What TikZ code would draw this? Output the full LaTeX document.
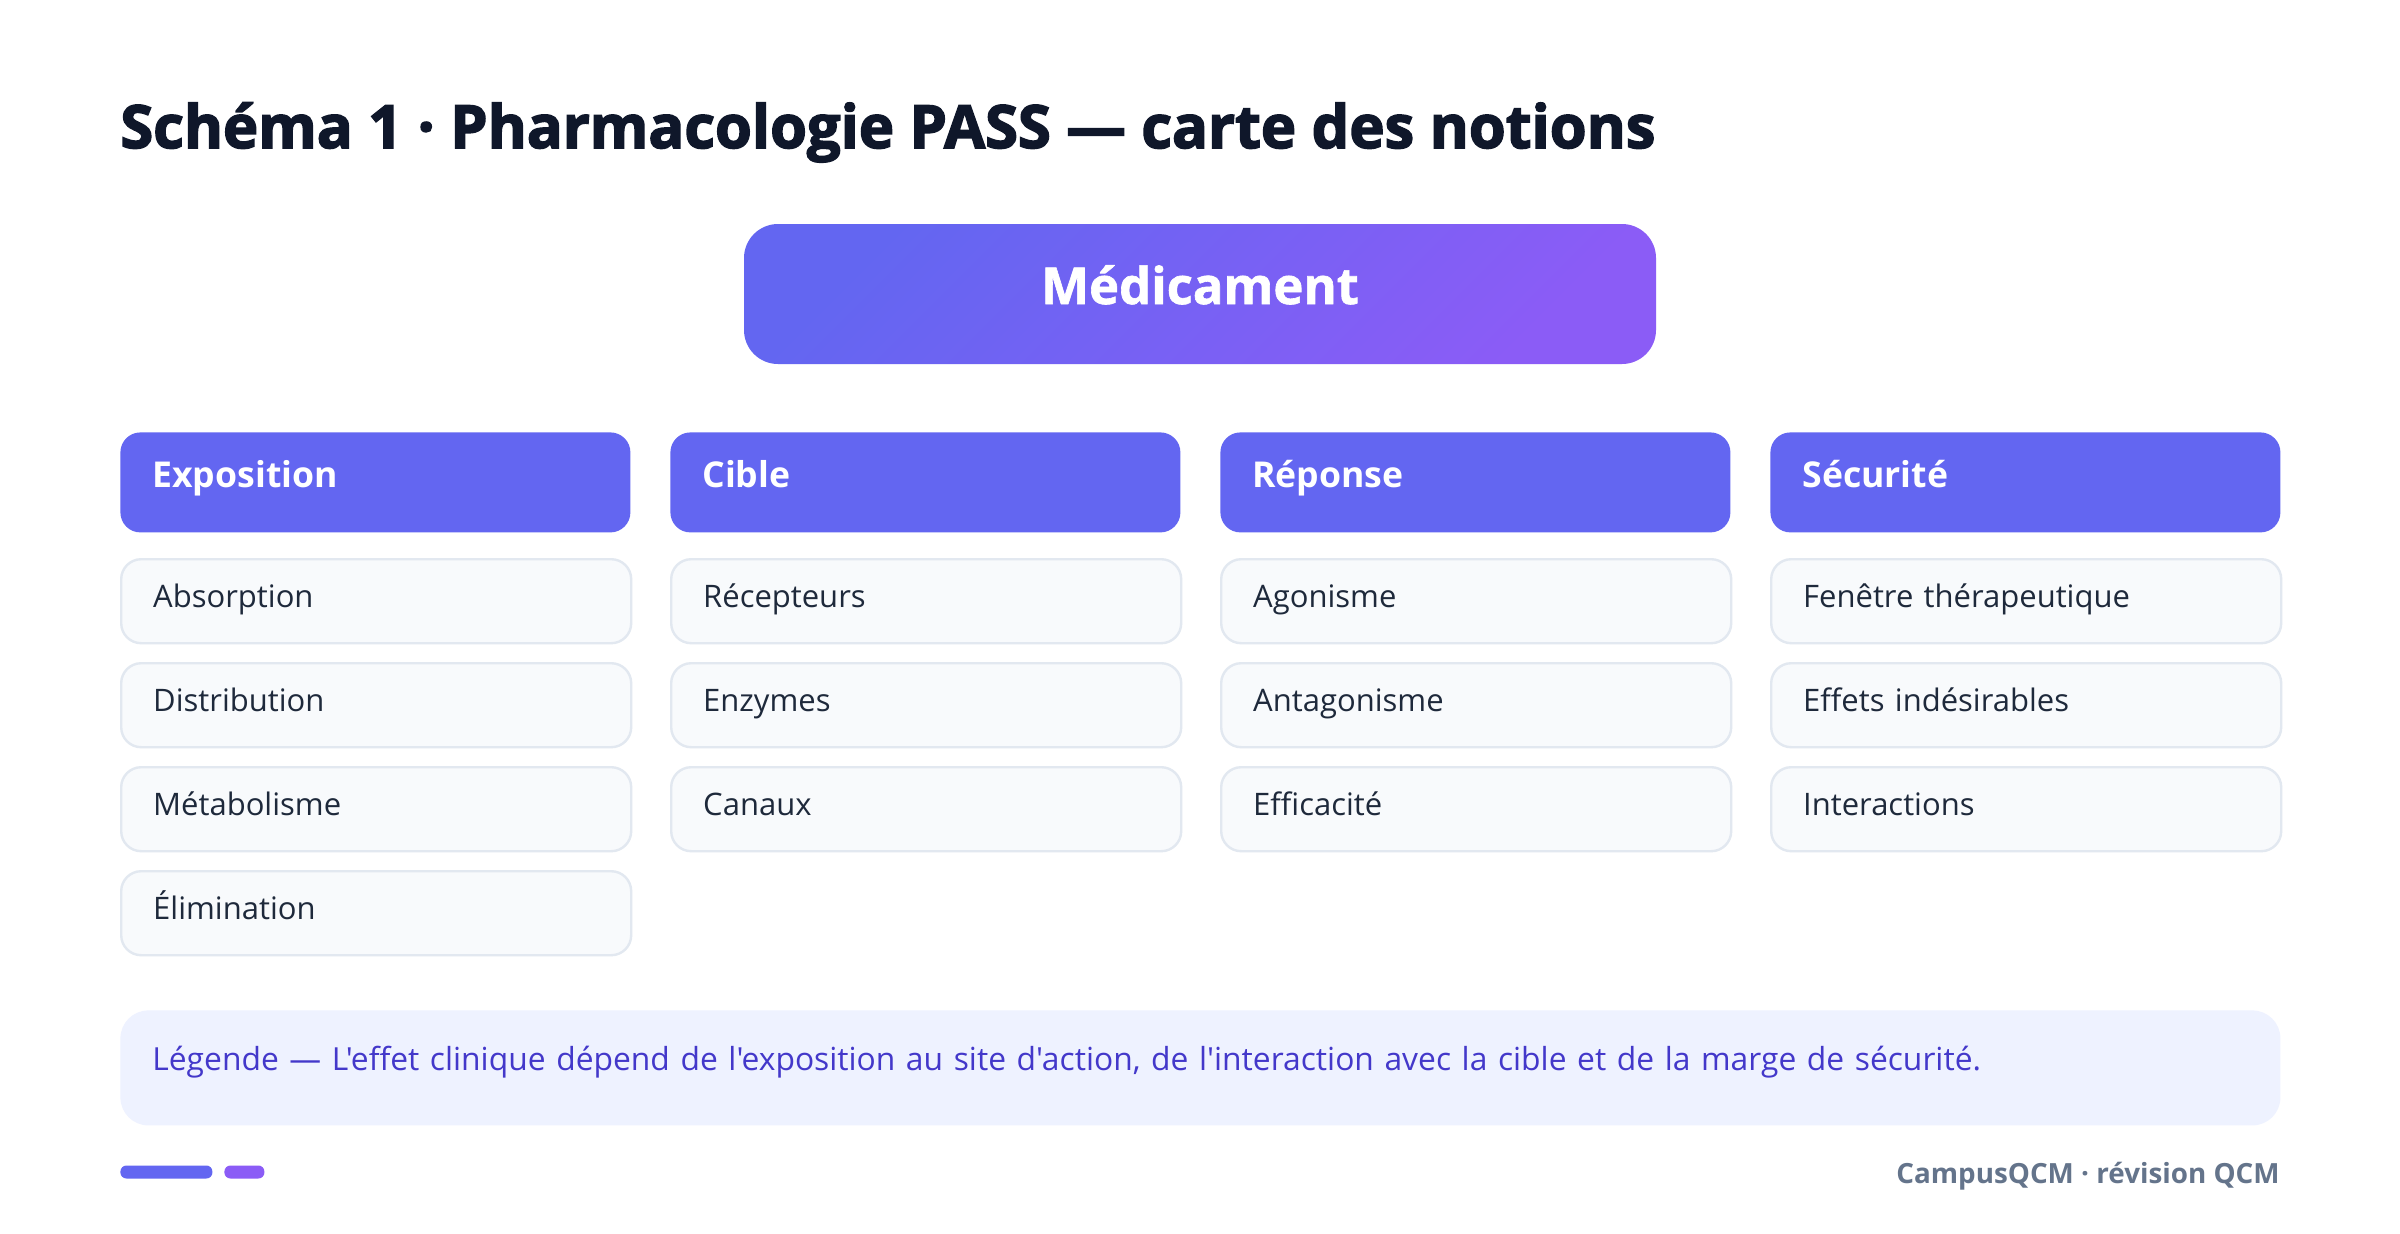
\documentclass[tikz,border=0pt]{standalone}
\usepackage{fontspec}
\setmainfont{Open Sans}
\newfontfamily\plainfont{Open Sans}
\newfontfamily\titlefont{Open Sans}[BoldFeatures={FakeBold=2.6}]
\newfontfamily\medfont{Open Sans}[BoldFeatures={FakeBold=1.2}]
\definecolor{indigoA}{HTML}{6366F1}
\definecolor{violetA}{HTML}{8B5CF6}
\definecolor{titlec}{HTML}{0F172A}
\definecolor{itemtext}{HTML}{1E293B}
\definecolor{itembg}{HTML}{F8FAFC}
\definecolor{itemline}{HTML}{E2E8F0}
\definecolor{legbg}{HTML}{EEF2FF}
\definecolor{legtext}{HTML}{4338CA}
\definecolor{footc}{HTML}{64748B}
\tikzset{
  hdrbox/.style={draw=none, fill=indigoA, rounded corners=10pt, anchor=north west,
    minimum width=255pt, minimum height=50pt, text width=223pt, inner xsep=16pt, inner ysep=0pt,
    align=left, text=white, font=\fontsize{17.8}{20}\selectfont\bfseries,
    text height=12.5pt, text depth=7.5pt},
  itembox/.style={draw=itemline, line width=1.2pt, fill=itembg, rounded corners=10pt, anchor=north west,
    minimum width=255pt, minimum height=42pt, text width=223pt, inner xsep=16pt, inner ysep=0pt,
    align=left, text=itemtext, font=\fontsize{15.5}{18}\selectfont,
    text height=10.5pt, text depth=4.5pt},
  mainbox/.style={draw=none, top color=indigoA, bottom color=violetA, shading angle=45,
    rounded corners=17pt,
    minimum width=456pt, minimum height=70pt, inner sep=0pt, text=white,
    font=\fontsize{25.4}{30}\medfont\bfseries, text height=19pt, text depth=9pt},
  legbox/.style={draw=none, fill=legbg, rounded corners=14pt, anchor=north west,
    minimum width=1080pt, minimum height=57.5pt, text width=1048pt, inner xsep=16pt, inner ysep=0pt,
    align=left, text=legtext, font=\fontsize{15.9}{18}\plainfont,
    text height=11pt, text depth=8pt},
  barbox/.style={draw=none, rounded corners=3pt, minimum height=6.5pt, inner sep=0pt, anchor=west}
}
\begin{document}
\begin{tikzpicture}[x=1pt,y=-1pt]
\useasboundingbox[fill=white] (0,0) rectangle (1200,616.5);

% title
\node[anchor=base west, inner sep=0pt, text=titlec, font=\fontsize{29.8}{36}\titlefont\bfseries]
  (title) at (60,74) {Schéma 1 · Pharmacologie PASS — carte des notions};

% main node
\node[mainbox] (med) at (600,147) {Médicament};

% headers
\node[hdrbox] (h1) at (60,216)  {Exposition};
\node[hdrbox] (h2) at (335,216) {Cible};
\node[hdrbox] (h3) at (610,216) {Réponse};
\node[hdrbox] (h4) at (885,216) {Sécurité};

% column 1
\node[itembox] (a1) at (60,279) {Absorption};
\node[itembox] (a2) at (60,331) {Distribution};
\node[itembox] (a3) at (60,383) {Métabolisme};
\node[itembox] (a4) at (60,435) {Élimination};
% column 2
\node[itembox] (b1) at (335,279) {Récepteurs};
\node[itembox] (b2) at (335,331) {Enzymes};
\node[itembox] (b3) at (335,383) {Canaux};
% column 3
\node[itembox] (c1) at (610,279) {Agonisme};
\node[itembox] (c2) at (610,331) {Antagonisme};
\node[itembox] (c3) at (610,383) {Efficacité};
% column 4
\node[itembox] (d1) at (885,279) {Fenêtre thérapeutique};
\node[itembox] (d2) at (885,331) {Effets indésirables};
\node[itembox] (d3) at (885,383) {Interactions};

% legend
\node[legbox] (leg) at (60,505) {Légende — L'effet clinique dépend de l'exposition au site d'action, de l'interaction avec la cible et de la marge de sécurité.};

% footer
\node[barbox, fill=indigoA, minimum width=46pt] (bar1) at (60,586) {};
\node[barbox, fill=violetA, minimum width=20pt] (bar2) at (112,586) {};
\node[anchor=base east, inner sep=0pt, text=footc, font=\fontsize{13.9}{16}\selectfont\bfseries]
  (foot) at (1140,591.5) {CampusQCM · révision QCM};
\end{tikzpicture}
\end{document}
